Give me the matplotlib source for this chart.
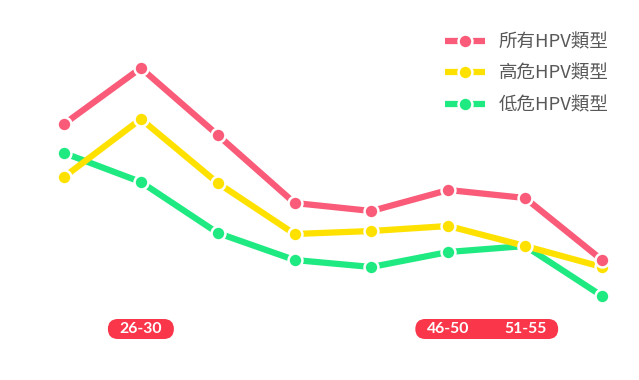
import matplotlib.pyplot as plt
from matplotlib.patches import FancyBboxPatch

plt.rcParams['font.family'] = ['Noto Sans CJK TC', 'DejaVu Sans']

# age groups on x, three series
age_groups = ["21-25", "26-30", "31-35", "36-40", "41-45", "46-50", "51-55", "56-60"]
all_hpv = [19.6, 25.2, 18.5, 11.7, 10.9, 13.0, 12.2, 6.0]
high_risk = [14.3, 20.1, 13.7, 8.6, 8.9, 9.4, 7.4, 5.3]
low_risk = [16.7, 13.8, 8.7, 6.0, 5.3, 6.8, 7.4, 2.4]

series_names = ["所有HPV類型", "高危HPV類型", "低危HPV類型"]
colors = ["#F95B78", "#FFE100", "#1FEA82"]

# only these age labels are shown, grouped into pills
highlighted = [["26-30"], ["46-50", "51-55"]]

fig = plt.figure(figsize=(6.39, 3.80), dpi=100)
ax = fig.add_axes([0, 0, 1, 1])
ax.set_xlim(-0.833, 7.481)
ax.set_ylim(-6, 32)
ax.axis("off")

x = list(range(len(age_groups)))
# first series sits on top
for n, (vals, name, c) in enumerate(zip([all_hpv, high_risk, low_risk], series_names, colors)):
    ax.plot(x, vals, color=c, lw=4.5, marker="o", ms=10, zorder=5 - n,
            mfc=c, mec="white", mew=1.8, label=name, solid_capstyle="butt")

leg = ax.legend(loc="upper right", bbox_to_anchor=(0.952, 0.912), frameon=False,
                borderpad=0, borderaxespad=0,
                fontsize=13.3, handlelength=2.15, handletextpad=0.72, labelspacing=0.72)
for t in leg.get_texts():
    t.set_color("#585858")

# pills under the chart: 33 px padding around label centres, 20 px tall
unit = 639 / (7.481 + 0.833)      # pixels per x unit
pad = 33 / unit
y_mid = 32 - 329 / 380 * 38
half_h = 10 / 380 * 38
for group in highlighted:
    idx = [age_groups.index(g) for g in group]
    left, right = idx[0] - pad, idx[-1] + pad
    pill = FancyBboxPatch((left, y_mid - half_h), right - left, 2 * half_h,
                          boxstyle=f"round,pad=0,rounding_size={10 / unit}",
                          mutation_aspect=unit / 10, fc="#F9364A", ec="none")
    ax.add_patch(pill)
    for i, g in zip(idx, group):
        ax.text(i, y_mid, g, ha="center", va="center", color="white",
                fontsize=11.3, family="Lato", fontweight="bold")

fig.savefig("out.png", dpi=100)
